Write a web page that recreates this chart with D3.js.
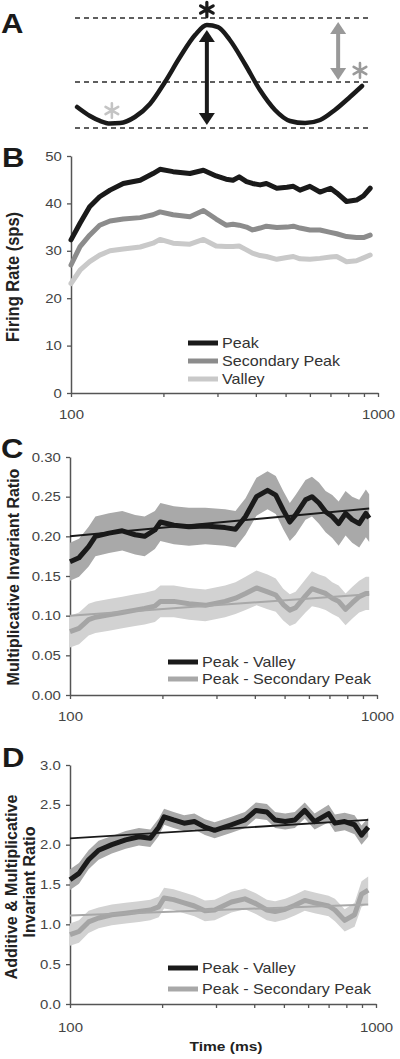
<!DOCTYPE html>
<html><head><meta charset="utf-8">
<script src="https://cdn.jsdelivr.net/npm/d3@7"></script>
<style>html,body{margin:0;padding:0;background:#fff;}svg{display:block;}</style>
</head><body><svg id="c" width="400" height="1059"></svg>
<script>
// ---------- Panel A schematic (normalized 0-100 units) ----------
const schemX = [0.7,5.1,8.5,11.9,15.3,20.3,25.4,30.5,35.6,40.7,44.7,48.5,52.5,57.6,62.7,67.8,72.9,78.0,83.1,88.1,93.2,97.3];
const schemY = [19.1,10.9,6.4,4.1,4.5,10.0,21.8,41.8,64.5,84.5,93.6,91.8,80.0,58.2,34.5,16.4,6.4,4.5,7.3,16.4,28.2,38.2];
const levelsA = [100, 41.8, 0];
const arrowsA = [{x:44.7, y1:89, y2:2.7, color:"#1a1a1a"}, {x:89.2, y1:96.4, y2:43.6, color:"#999"}];
const starsA = [{x:44.7, y:107.7, color:"#1a1a1a", w:3.2}, {x:12.5, y:15.9, color:"#c4c4c4", w:2.6}, {x:96.6, y:52.3, color:"#9a9a9a", w:2.6}];

// ---------- Panel B ----------
const timeB = [100,107,115,124,134,148,168,185,195,215,244,270,297,320,337,353,373,390,413,433,468,505,530,557,600,647,700,734,790,851,897,943];
const peakB = [32.3,35.8,39.3,41.4,42.8,44.2,44.9,46.3,47.2,46.7,46.3,47.0,45.8,45.1,44.9,45.6,44.6,44.2,43.9,44.2,43.2,43.4,43.6,42.8,43.6,42.4,43.2,42.2,40.4,40.7,41.6,43.2];
const secB = [27.0,30.9,33.3,35.4,36.3,36.7,37.0,37.6,38.2,37.6,37.2,38.5,36.7,35.4,35.6,35.4,35.0,34.4,34.8,35.2,34.9,35.0,35.2,34.8,34.4,34.4,33.9,33.6,33.0,32.8,32.8,33.3];
const valleyB = [23.1,25.9,27.7,29.1,30.0,30.4,30.8,31.6,32.4,31.6,31.4,32.4,31.0,30.9,30.9,31.0,30.2,29.5,29.0,28.8,28.2,28.6,28.8,28.3,28.2,28.4,28.7,28.8,27.7,27.9,28.5,29.1];
const legendB = ["Peak","Secondary Peak","Valley"];
const yTicksB = [0,10,20,30,40,50];

// ---------- Panel C ----------
const timeC = [100,107,115,121,134,148,163,175,189,197,218,244,276,320,346,373,405,440,468,495,520,543,585,614,647,680,715,750,790,830,875,920,943];
const pvC = [0.168,0.173,0.187,0.200,0.204,0.207,0.202,0.200,0.208,0.218,0.214,0.212,0.213,0.211,0.209,0.225,0.250,0.258,0.252,0.233,0.218,0.227,0.246,0.250,0.242,0.231,0.225,0.216,0.229,0.221,0.216,0.229,0.223];
const pvErrC = [0.024,0.024,0.025,0.025,0.025,0.025,0.025,0.025,0.024,0.024,0.024,0.024,0.023,0.023,0.023,0.023,0.024,0.024,0.024,0.024,0.024,0.025,0.025,0.025,0.026,0.026,0.027,0.028,0.028,0.029,0.030,0.030,0.030];
const psC = [0.080,0.084,0.095,0.098,0.101,0.104,0.107,0.109,0.112,0.118,0.118,0.115,0.113,0.118,0.122,0.128,0.135,0.130,0.126,0.114,0.107,0.110,0.125,0.134,0.131,0.128,0.122,0.118,0.108,0.116,0.124,0.128,0.128];
const psErrC = [0.020,0.020,0.020,0.020,0.020,0.020,0.020,0.020,0.020,0.020,0.020,0.020,0.020,0.020,0.020,0.021,0.022,0.022,0.021,0.020,0.020,0.020,0.021,0.022,0.021,0.021,0.020,0.020,0.020,0.020,0.020,0.021,0.021];
const fitPvC = [[100,0.200],[943,0.235]];
const fitPsC = [[100,0.100],[943,0.127]];
const yTicksC = [0,0.05,0.10,0.15,0.20,0.25,0.30];

// ---------- Panel D ----------
const timeD = [100,107,115,124,137,152,168,183,195,203,218,236,255,276,297,337,373,405,440,468,505,543,585,630,700,734,790,851,897,943];
const pvD = [1.56,1.64,1.81,1.93,2.00,2.06,2.10,2.08,2.22,2.35,2.31,2.27,2.29,2.22,2.18,2.25,2.31,2.43,2.41,2.31,2.29,2.31,2.43,2.29,2.39,2.27,2.29,2.25,2.12,2.22];
const pvErrD = [0.13,0.13,0.12,0.12,0.11,0.11,0.11,0.11,0.11,0.10,0.10,0.10,0.10,0.10,0.10,0.10,0.10,0.10,0.10,0.10,0.10,0.10,0.10,0.10,0.11,0.11,0.11,0.12,0.12,0.12];
const psD = [0.87,0.91,1.03,1.08,1.12,1.14,1.16,1.18,1.22,1.33,1.31,1.27,1.23,1.17,1.18,1.28,1.32,1.26,1.18,1.16,1.19,1.24,1.30,1.27,1.23,1.18,1.05,1.12,1.38,1.43];
const psErrD = [0.14,0.14,0.14,0.13,0.13,0.13,0.13,0.13,0.13,0.13,0.13,0.13,0.13,0.13,0.13,0.13,0.13,0.13,0.13,0.13,0.13,0.13,0.13,0.13,0.13,0.14,0.14,0.15,0.16,0.17];
const fitPvD = [[100,2.08],[943,2.31]];
const fitPsD = [[100,1.11],[943,1.25]];
const yTicksD = [0,0.5,1.0,1.5,2.0,2.5,3.0];

const legendCD = ["Peak - Valley","Peak - Secondary Peak"];
const xTicks = [100,200,300,400,500,600,700,800,900,1000];
const xLabels = [100,1000];

// ---------- drawing ----------
const FONT = "'Liberation Sans', Arial, Helvetica, sans-serif";
const SX = 1.15;
const svg = d3.select("#c");
svg.append("rect").attr("width",400).attr("height",1059).attr("fill","#fff");

function stext(x, y, txt, o={}) {
  return svg.append("text")
    .attr("transform", `translate(${x},${y}) scale(${o.sx||SX},1)` + (o.rot ? " rotate(-90)" : ""))
    .attr("font-family", FONT).attr("font-size", o.size||14)
    .attr("font-weight", o.bold ? "bold" : "normal")
    .attr("text-anchor", o.anchor||"start")
    .attr("fill", o.fill||"#333").text(txt);
}

// Panel letters
stext(1, 33, "A", {size:27, bold:true, fill:"#1a1a1a"});
stext(2, 167, "B", {size:27, bold:true, fill:"#1a1a1a"});
stext(1, 458, "C", {size:27, bold:true, fill:"#1a1a1a"});
stext(2, 767, "D", {size:27, bold:true, fill:"#1a1a1a"});

// ---- Panel A ----
const ax = d3.scaleLinear().domain([0,100]).range([75,370]);
const ay = d3.scaleLinear().domain([0,100]).range([128,18]);
svg.append("g").selectAll("line").data(levelsA).join("line")
  .attr("x1", ax(0)).attr("x2", ax(100)).attr("y1", d=>ay(d)).attr("y2", d=>ay(d))
  .attr("stroke","#2a2a2a").attr("stroke-width",1.6).attr("stroke-dasharray","5,4");
svg.append("path").datum(d3.zip(schemX, schemY))
  .attr("d", d3.line().x(d=>ax(d[0])).y(d=>ay(d[1])).curve(d3.curveMonotoneX))
  .attr("fill","none").attr("stroke","#1a1a1a").attr("stroke-width",4.5).attr("stroke-linecap","round");
arrowsA.forEach(a => {
  const x = ax(a.x), yt = ay(a.y1), yb = ay(a.y2), hw = 8, hl = 12;
  svg.append("line").attr("x1",x).attr("x2",x).attr("y1",yt+hl-1).attr("y2",yb-hl+1)
    .attr("stroke",a.color).attr("stroke-width",4);
  svg.append("path").attr("d",`M${x},${yt} L${x-hw},${yt+hl} L${x+hw},${yt+hl} Z`).attr("fill",a.color);
  svg.append("path").attr("d",`M${x},${yb} L${x-hw},${yb-hl} L${x+hw},${yb-hl} Z`).attr("fill",a.color);
});
// asterisk markers
const star = d3.symbol().type(d3.symbolAsterisk).size(150);
svg.append("g").selectAll("path").data(starsA).join("path")
  .attr("transform", d => `translate(${ax(d.x)},${ay(d.y)})`)
  .attr("d", star).attr("fill","none").attr("stroke", d=>d.color)
  .attr("stroke-width", d=>d.w).attr("stroke-linecap","round");

// ---- generic axis helper ----
function drawAxes(x, y, yTicks, yFmt, xLabelOffset) {
  const gy = svg.append("g").attr("transform",`translate(${x.range()[0]},0)`)
    .call(d3.axisLeft(y).tickValues(yTicks).tickFormat(yFmt).tickSize(4).tickSizeOuter(0).tickPadding(4));
  const gx = svg.append("g").attr("transform",`translate(0,${y.range()[0]})`)
    .call(d3.axisBottom(x).tickValues(xTicks).tickFormat(d => xLabels.includes(d) ? String(d) : "")
      .tickSize(4).tickSizeOuter(0).tickPadding(xLabelOffset));
  [gy,gx].forEach(g => {
    g.select(".domain").attr("stroke","#555").attr("stroke-width",1.5);
    g.selectAll(".tick line").attr("stroke","#555").attr("stroke-width",1.3);
    g.selectAll(".tick text").attr("font-family",FONT).attr("font-size",13).attr("fill","#444")
      .attr("transform",`scale(${SX},1)`);
  });
}

function legend(items, colors, x0, y0, dy) {
  items.forEach((t,i) => {
    const y = y0 + i*dy;
    svg.append("line").attr("x1",x0).attr("x2",x0+30).attr("y1",y).attr("y2",y)
      .attr("stroke",colors[i]).attr("stroke-width",5);
    stext(x0+34, y+5, t, {size:14, fill:"#333"});
  });
}

// ---- Panel B ----
const xB = d3.scaleLog().domain([100,1000]).range([71,378]);
const yB = d3.scaleLinear().domain([0,50]).range([393,156]);
drawAxes(xB, yB, yTicksB, d3.format("d"), 13);
const colB = ["#1a1a1a","#8c8c8c","#c9c9c9"];
[valleyB, secB, peakB].forEach((s,i) => {
  svg.append("path").datum(d3.zip(timeB, s))
    .attr("d", d3.line().x(d=>xB(d[0])).y(d=>yB(d[1])))
    .attr("fill","none").attr("stroke", [colB[2],colB[1],colB[0]][i]).attr("stroke-width",5)
    .attr("stroke-linejoin","round").attr("stroke-linecap","round");
});
legend(legendB, colB, 188, 343, 18);
stext(19, 277, "Firing Rate (sps)", {size:16.5, bold:true, anchor:"middle", rot:true, sx:1.08, fill:"#222"});

// ---- bands helper ----
function bandSeries(x, y, t, m, e, bandColor, lineColor, lw) {
  const pts = t.map((d,i) => ({t:d, m:m[i], e:e[i]}));
  svg.append("path").datum(pts)
    .attr("d", d3.area().x(d=>x(d.t)).y0(d=>y(d.m-d.e)).y1(d=>y(d.m+d.e)))
    .attr("fill", bandColor);
  svg.append("path").datum(pts)
    .attr("d", d3.line().x(d=>x(d.t)).y(d=>y(d.m)))
    .attr("fill","none").attr("stroke",lineColor).attr("stroke-width",lw)
    .attr("stroke-linejoin","round");
}
function fitLine(x, y, pts, color, lw) {
  svg.append("path").datum(pts)
    .attr("d", d3.line().x(d=>x(d[0])).y(d=>y(d[1])))
    .attr("fill","none").attr("stroke",color).attr("stroke-width",lw);
}

// ---- Panel C ----
const xC = d3.scaleLog().domain([100,1000]).range([70,377]);
const yC = d3.scaleLinear().domain([0,0.30]).range([695,457]);
drawAxes(xC, yC, yTicksC, d3.format(".2f"), 13);
bandSeries(xC, yC, timeC, psC, psErrC, "#d2d2d2", "#a5a5a5", 5);
fitLine(xC, yC, fitPsC, "#a8a8a8", 2);
bandSeries(xC, yC, timeC, pvC, pvErrC, "#a9a9a9", "#1a1a1a", 5);
fitLine(xC, yC, fitPvC, "#1a1a1a", 2);
legend(legendCD, ["#1a1a1a","#a8a8a8"], 168, 662, 17);
stext(19, 577, "Multiplicative Invariant Ratio", {size:16, bold:true, anchor:"middle", rot:true, sx:1.08, fill:"#222"});

// ---- Panel D ----
const xD = d3.scaleLog().domain([100,1000]).range([70,376]);
const yD = d3.scaleLinear().domain([0,3]).range([1004,765]);
drawAxes(xD, yD, yTicksD, d3.format(".1f"), 15);
bandSeries(xD, yD, timeD, psD, psErrD, "#d2d2d2", "#a5a5a5", 5);
fitLine(xD, yD, fitPsD, "#a8a8a8", 2);
bandSeries(xD, yD, timeD, pvD, pvErrD, "#a9a9a9", "#1a1a1a", 5);
fitLine(xD, yD, fitPvD, "#1a1a1a", 1.8);
legend(legendCD, ["#1a1a1a","#a8a8a8"], 168, 968, 21);
stext(17, 887, "Additive & Multiplicative", {size:16, bold:true, anchor:"middle", rot:true, sx:1.08, fill:"#222"});
stext(35, 882, "Invariant Ratio", {size:16, bold:true, anchor:"middle", rot:true, sx:1.08, fill:"#222"});
stext(226, 1051, "Time (ms)", {size:13.5, bold:true, anchor:"middle", fill:"#222"});
</script></body></html>
